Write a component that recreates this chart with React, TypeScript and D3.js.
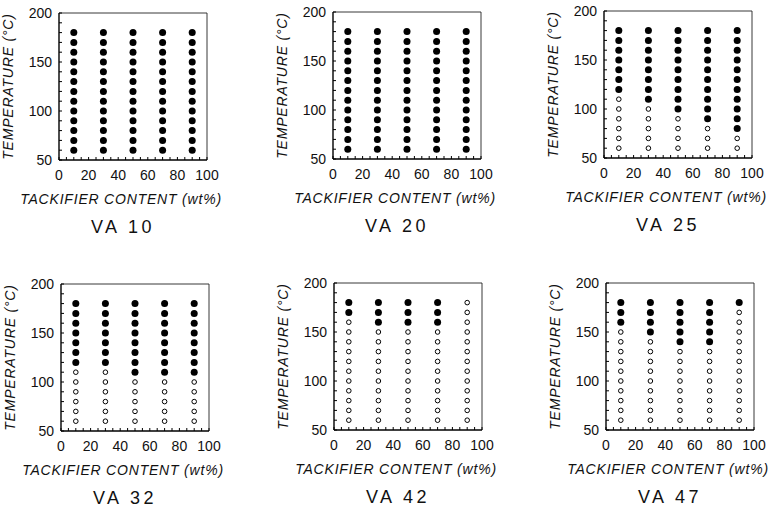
import * as d3 from 'd3'

// sample names, one per panel
const panelTitles = ['VA 10', 'VA 20', 'VA 25', 'VA 32', 'VA 42', 'VA 47']

// tackifier content measured (wt%)
const contents = [10, 30, 50, 70, 90]

// test temperatures (°C)
const temps = [60, 70, 80, 90, 100, 110, 120, 130, 140, 150, 160, 170, 180]

// lowest temperature at which the dot is filled, per content (null = none filled)
const va10Onset = [60, 60, 60, 60, 60]
const va20Onset = [60, 60, 60, 60, 60]
const va25Onset = [120, 110, 100, 90, 80]
const va32Onset = [120, 120, 110, 110, 110]
const va42Onset = [170, 160, 160, 160, null]
const va47Onset = [160, 150, 140, 140, 180]
const onsets = [va10Onset, va20Onset, va25Onset, va32Onset, va42Onset, va47Onset]

const xTicks = [0, 20, 40, 60, 80, 100]
const yTicks = [50, 100, 150, 200]

// panel plot-area origins
const origins = [
  [59, 13], [333, 12], [604, 11],
  [61, 284], [334, 283], [606, 283],
]
const W = 148
const H = 147

const font = 'Liberation Sans, Arial, Helvetica, sans-serif'

function Panel({ idx }: { idx: number }) {
  const [ox, oy] = origins[idx]
  const x = d3.scaleLinear().domain([0, 100]).range([0, W])
  const y = d3.scaleLinear().domain([50, 200]).range([H, 0])
  const onset = onsets[idx]
  const minorX = d3.range(0, 101, 5)
  const minorY = d3.range(50, 201, 10)

  return (
    <g transform={`translate(${ox},${oy})`}>
      {/* frame */}
      <line x1={0} x2={W} y1={0} y2={0} stroke="#222" strokeWidth={0.9} />
      <line x1={W} x2={W} y1={0} y2={H} stroke="#222" strokeWidth={0.9} />
      <line x1={0} x2={0} y1={0} y2={H} stroke="#000" strokeWidth={1.4} />
      <line x1={0} x2={W} y1={H} y2={H} stroke="#000" strokeWidth={1.4} />
      {minorX.map((t) => (
        <line key={'mx' + t} x1={x(t)} x2={x(t)} y1={H} y2={H - 3} stroke="#000" strokeWidth={1} />
      ))}
      {minorY.map((t) => (
        <line key={'my' + t} x1={0} x2={3} y1={y(t)} y2={y(t)} stroke="#000" strokeWidth={1} />
      ))}
      {xTicks.map((t) => (
        <text key={'xt' + t} x={x(t)} y={H + 20} textAnchor="middle" fontSize={14} fontFamily={font} fill="#111">
          {t}
        </text>
      ))}
      {yTicks.map((t) => (
        <text key={'yt' + t} x={-7} y={y(t) + 5} textAnchor="end" fontSize={14} fontFamily={font} fill="#111">
          {t}
        </text>
      ))}
      <text
        transform={`translate(${-46},${H / 2}) rotate(-90)`}
        textAnchor="middle"
        fontSize={14}
        letterSpacing={0.8}
        fontStyle="italic"
        fontFamily={font}
        fill="#111"
      >
        TEMPERATURE (°C)
      </text>
      <text
        x={W / 2 - 12}
        y={H + 44}
        textAnchor="middle"
        fontSize={14}
        letterSpacing={0.8}
        fontStyle="italic"
        fontFamily={font}
        fill="#111"
      >
        TACKIFIER CONTENT (wt%)
      </text>
      <text x={W / 2 - 10} y={H + 73} textAnchor="middle" fontSize={18} letterSpacing={3.5} fontFamily={font} fill="#111">
        {panelTitles[idx]}
      </text>
      {contents.map((c, ci) =>
        temps.map((t) => {
          const o = onset[ci]
          const filled = o !== null && t >= o
          return filled ? (
            <circle key={c + '-' + t} cx={x(c)} cy={y(t)} r={3.5} fill="#000" />
          ) : (
            <circle key={c + '-' + t} cx={x(c)} cy={y(t)} r={2.3} fill="#fff" stroke="#000" strokeWidth={1} />
          )
        })
      )}
    </g>
  )
}

export default function App() {
  return (
    <svg
      width={769}
      height={510}
      viewBox="0 0 769 510"
      style={{ position: 'absolute', left: 0, top: 0, background: '#fff' }}
    >
      {panelTitles.map((_, i) => (
        <Panel key={i} idx={i} />
      ))}
    </svg>
  )
}
